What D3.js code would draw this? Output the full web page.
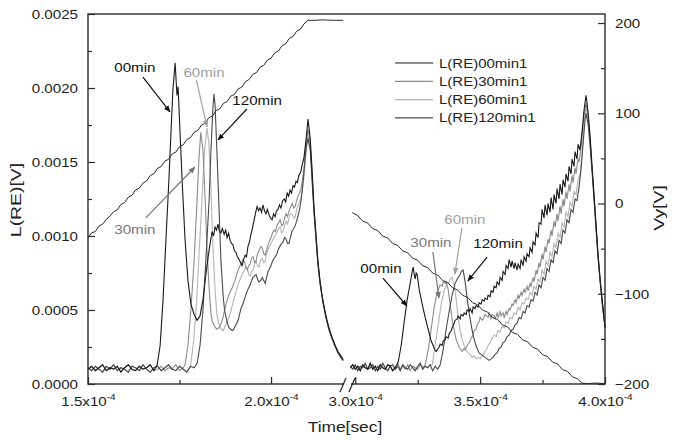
<!DOCTYPE html>
<html>
<head>
<meta charset="utf-8">
<script src="https://cdn.jsdelivr.net/npm/d3@7"></script>
<style>
  body { margin: 0; background: #fff; }
  svg { display: block; }
  text { font-family: "Liberation Sans", Arial, sans-serif; }
</style>
</head>
<body>
<svg id="chart" width="677" height="440"></svg>
<script>
// ---- data: time in microseconds, L(RE) in millivolts, Vy in volts ----

const seriesNames = ["L(RE)00min1", "L(RE)30min1", "L(RE)60min1", "L(RE)120min1"];
const seriesColors = ["#1a1a1a", "#8c8c8c", "#b4b4b4", "#4a4a4a"];

const leftTicks = [0, 0.5, 1.0, 1.5, 2.0, 2.5];
const leftMinor = [0.25, 0.75, 1.25, 1.75, 2.25];
const rightTicks = [-200, -100, 0, 100, 200];
const rightMinor = [-150, -50, 50, 150];
const timeTicksLeft = [150, 200];
const timeMinorLeft = [175];
const timeTicksRight = [300, 350, 400];
const timeMinorRight = [325, 375];

// noise floor before the first peak (left window, right window)
const baseTimesLeft = [150,151,152,153,154,155,156,157,158,159,160,161,162,163,164,165,166,167,168,169,170,171,172,173,174,175,176,177,178,179,180,181,182,183,184,185];
const baseLeftA = [0.10,0.12,0.09,0.11,0.13,0.09,0.11,0.10,0.12,0.08,0.11,0.13,0.10,0.09,0.12,0.10,0.11,0.13,0.09,0.10,0.12,0.09,0.11,0.10,0.13,0.09,0.11,0.12,0.10,0.08,0.11,0.12,0.10,0.09,0.12,0.11];
const baseLeftB = [0.11,0.09,0.12,0.10,0.08,0.12,0.10,0.13,0.09,0.11,0.10,0.08,0.12,0.11,0.09,0.13,0.10,0.08,0.11,0.12,0.09,0.11,0.13,0.10,0.09,0.12,0.10,0.08,0.12,0.11,0.10,0.09,0.12,0.10,0.11,0.09];
const baseTimesRight = [298,299,300,301,302,303,304,305,306,307,308,309,310,311,312,313,314,315,316,317,318,319,320,321,322,323,324,325,326,327,328,329,330,331,332,333,334];
const baseRightA = [0.11,0.13,0.10,0.12,0.09,0.13,0.11,0.10,0.14,0.10,0.12,0.09,0.13,0.11,0.10,0.13,0.12,0.09,0.11,0.14,0.10,0.12,0.10,0.13,0.09,0.12,0.11,0.10,0.13,0.11,0.09,0.12,0.10,0.13,0.11,0.10,0.12];
const baseRightB = [0.12,0.10,0.13,0.09,0.12,0.11,0.14,0.10,0.11,0.13,0.09,0.12,0.10,0.14,0.11,0.09,0.12,0.13,0.10,0.12,0.09,0.13,0.11,0.10,0.13,0.11,0.09,0.12,0.14,0.10,0.12,0.11,0.13,0.09,0.12,0.10,0.11];

// L(RE) after onset, left window
const L00_left = [[168.9,0.13],[169.7,0.26],[170.5,0.57],[171.3,0.98],[172.1,1.38],[172.7,1.72],[173.2,1.99],[173.8,2.17],[174.3,1.95],[174.6,2.01],[175.1,1.72],[175.7,1.38],[176.5,0.98],[177.3,0.70],[178.1,0.54],[179.0,0.47],[179.8,0.43],[180.6,0.46],[181.4,0.57],[182.2,0.74],[183.1,0.91],[183.5,0.97],[183.9,1.03],[184.3,1.00],[184.7,1.06],[185.1,1.04],[185.5,1.08],[185.9,1.03],[186.3,1.02],[186.7,1.05],[187.2,1.01],[187.6,1.04],[188.0,0.99],[188.4,1.02],[188.8,0.97],[189.2,0.95],[189.6,0.94],[190.0,0.90],[190.4,0.89],[190.8,0.86],[191.3,0.84],[191.7,0.82],[192.1,0.80],[192.5,0.84],[192.9,0.87],[193.3,0.86],[193.7,0.93],[194.1,0.96],[194.5,1.01],[194.9,1.05],[195.4,1.11],[195.8,1.16],[196.2,1.20],[196.6,1.17],[197.0,1.19],[197.4,1.16],[197.8,1.21],[198.2,1.17],[198.6,1.15],[199.0,1.18],[199.5,1.14],[199.9,1.12],[200.3,1.11],[200.7,1.15],[201.1,1.13],[201.5,1.17],[201.9,1.18],[202.3,1.21],[202.7,1.19],[203.2,1.24],[203.6,1.25],[204.0,1.23],[204.4,1.29],[204.8,1.27],[205.2,1.31],[205.6,1.29],[206.0,1.34],[206.4,1.33],[206.8,1.37],[207.2,1.36],[207.6,1.41],[208.1,1.43],[208.5,1.48],[209.0,1.53],[209.6,1.66],[210.1,1.79],[210.7,1.66],[211.2,1.45],[211.7,1.21],[212.3,1.00],[212.8,0.83],[213.4,0.69],[213.8,0.62],[214.2,0.56],[214.6,0.51],[215.0,0.46],[215.4,0.42],[215.8,0.38],[216.2,0.35],[216.7,0.31],[217.1,0.29],[217.5,0.26],[217.9,0.24],[218.3,0.21],[218.7,0.20],[219.1,0.18],[219.7,0.16]];
const L30_left = [[176.5,0.13],[177.3,0.26],[178.1,0.50],[179.0,0.84],[179.8,1.25],[180.3,1.52],[180.8,1.70],[181.4,1.58],[182.0,1.25],[182.5,0.91],[183.1,0.64],[183.6,0.47],[184.0,0.42],[184.4,0.40],[184.8,0.38],[185.2,0.37],[185.7,0.38],[186.1,0.39],[186.5,0.42],[186.9,0.45],[187.3,0.50],[187.7,0.54],[188.2,0.58],[188.6,0.61],[189.0,0.63],[189.4,0.65],[189.8,0.68],[190.2,0.70],[190.6,0.74],[191.0,0.77],[191.4,0.79],[191.8,0.81],[192.3,0.84],[192.7,0.83],[193.1,0.79],[193.5,0.77],[193.9,0.80],[194.3,0.81],[194.7,0.85],[195.1,0.86],[195.5,0.82],[195.9,0.83],[196.3,0.88],[196.7,0.90],[197.2,0.93],[197.6,0.92],[198.0,0.88],[198.4,0.87],[198.8,0.91],[199.2,0.94],[199.6,0.97],[200.0,0.99],[200.4,1.02],[200.8,1.04],[201.2,1.03],[201.6,1.07],[202.0,1.09],[202.5,1.11],[202.9,1.07],[203.3,1.08],[203.7,1.12],[204.1,1.15],[204.5,1.13],[204.9,1.17],[205.4,1.20],[205.8,1.22],[206.2,1.19],[206.6,1.20],[207.0,1.24],[207.4,1.27],[207.8,1.29],[208.2,1.32],[208.6,1.38],[209.0,1.45],[209.6,1.62],[210.1,1.72],[210.7,1.63],[211.2,1.42],[211.7,1.19],[212.3,0.99],[212.8,0.82],[213.4,0.68],[214.2,0.55],[215.0,0.45],[215.8,0.37],[216.7,0.30],[217.5,0.25],[218.3,0.21],[219.1,0.18],[219.7,0.16]];
const L60_left = [[178.1,0.14],[178.9,0.30],[179.7,0.57],[180.5,0.95],[181.3,1.33],[181.9,1.59],[182.5,1.73],[183.0,1.63],[183.6,1.31],[184.1,0.94],[184.7,0.64],[185.2,0.47],[185.7,0.41],[186.1,0.38],[186.5,0.37],[186.9,0.36],[187.3,0.38],[187.7,0.40],[188.1,0.43],[188.5,0.45],[189.0,0.49],[189.4,0.53],[189.8,0.57],[190.2,0.60],[190.6,0.64],[191.0,0.67],[191.4,0.70],[191.8,0.72],[192.2,0.75],[192.6,0.76],[193.1,0.79],[193.5,0.78],[193.9,0.74],[194.3,0.73],[194.7,0.76],[195.1,0.77],[195.5,0.81],[195.9,0.83],[196.3,0.80],[196.7,0.79],[197.2,0.84],[197.6,0.85],[198.0,0.82],[198.4,0.83],[198.8,0.88],[199.2,0.91],[199.6,0.93],[200.0,0.95],[200.4,0.97],[200.8,0.99],[201.3,1.01],[201.7,1.03],[202.1,1.05],[202.5,1.06],[202.9,1.02],[203.3,1.03],[203.7,1.07],[204.1,1.10],[204.5,1.08],[204.9,1.12],[205.3,1.15],[205.7,1.15],[206.2,1.12],[206.6,1.13],[207.0,1.18],[207.4,1.21],[207.8,1.23],[208.2,1.26],[208.6,1.32],[209.0,1.40],[209.6,1.58],[210.1,1.68],[210.7,1.60],[211.2,1.40],[211.7,1.18],[212.3,0.98],[212.8,0.82],[213.4,0.68],[214.2,0.55],[215.0,0.45],[215.8,0.37],[216.7,0.30],[217.5,0.25],[218.3,0.21],[219.1,0.18],[219.7,0.16]];
const L120_left = [[179.8,0.14],[180.6,0.26],[181.4,0.50],[182.2,0.84],[183.1,1.25],[183.6,1.59],[184.1,1.86],[184.4,1.96],[184.7,1.89],[185.2,1.58],[185.8,1.18],[186.3,0.84],[186.9,0.60],[187.3,0.50],[187.7,0.45],[188.1,0.41],[188.5,0.38],[189.0,0.37],[189.4,0.36],[189.8,0.37],[190.2,0.39],[190.6,0.41],[191.0,0.43],[191.4,0.47],[191.8,0.51],[192.3,0.54],[192.7,0.57],[193.1,0.60],[193.5,0.63],[193.9,0.65],[194.3,0.67],[194.7,0.70],[195.1,0.72],[195.5,0.73],[195.9,0.74],[196.3,0.71],[196.7,0.69],[197.2,0.70],[197.6,0.72],[198.0,0.70],[198.4,0.68],[198.8,0.72],[199.2,0.76],[199.6,0.78],[200.0,0.80],[200.4,0.83],[200.8,0.85],[201.2,0.86],[201.6,0.88],[202.0,0.91],[202.4,0.93],[202.9,0.95],[203.3,0.96],[203.7,0.99],[204.1,0.98],[204.5,0.95],[204.9,0.95],[205.3,0.99],[205.7,1.03],[206.2,1.05],[206.6,1.07],[207.0,1.10],[207.4,1.14],[207.8,1.18],[208.2,1.24],[208.6,1.33],[209.0,1.44],[209.6,1.60],[210.1,1.66],[210.7,1.58],[211.2,1.38],[211.7,1.17],[212.3,0.97],[212.8,0.81],[213.4,0.68],[214.2,0.55],[215.0,0.45],[215.8,0.37],[216.7,0.31],[217.5,0.26],[218.3,0.22],[219.1,0.19],[219.7,0.17]];

// L(RE) after onset, right window
const L00_right = [[317.2,0.15],[318.4,0.26],[319.6,0.42],[320.8,0.57],[322.0,0.68],[322.8,0.76],[323.2,0.79],[323.6,0.74],[324.0,0.71],[324.4,0.75],[324.8,0.74],[325.6,0.64],[326.8,0.54],[328.0,0.45],[329.2,0.37],[330.4,0.29],[331.2,0.26],[331.6,0.24],[332.4,0.22],[332.8,0.23],[333.6,0.25],[334.0,0.27],[334.8,0.26],[335.2,0.29],[336.0,0.30],[336.4,0.32],[337.2,0.31],[337.6,0.34],[338.4,0.36],[338.8,0.38],[339.6,0.41],[340.0,0.43],[340.8,0.44],[341.2,0.46],[342.0,0.44],[342.4,0.47],[343.2,0.46],[343.6,0.48],[344.4,0.47],[344.8,0.50],[345.6,0.49],[346.0,0.51],[346.8,0.48],[347.2,0.52],[348.0,0.51],[348.4,0.53],[349.2,0.52],[349.6,0.55],[350.4,0.54],[350.8,0.57],[351.6,0.56],[352.0,0.58],[352.8,0.57],[353.2,0.60],[354.0,0.59],[354.4,0.63],[355.2,0.62],[355.6,0.66],[356.4,0.65],[356.8,0.69],[357.6,0.67],[358.0,0.72],[358.8,0.70],[359.2,0.76],[360.0,0.74],[360.4,0.80],[361.2,0.78],[361.6,0.84],[362.4,0.79],[362.8,0.83],[363.6,0.78],[364.0,0.82],[364.8,0.77],[365.2,0.81],[366.0,0.78],[366.4,0.84],[367.2,0.80],[367.6,0.86],[368.4,0.83],[368.8,0.88],[369.6,0.86],[370.0,0.92],[370.8,0.89],[371.2,0.96],[372.0,0.94],[372.4,1.02],[373.2,0.99],[373.6,1.09],[374.4,1.08],[374.8,1.18],[375.6,1.12],[376.0,1.21],[376.8,1.14],[377.2,1.22],[378.0,1.16],[378.4,1.26],[379.2,1.18],[379.6,1.28],[380.4,1.22],[380.8,1.32],[381.6,1.25],[382.0,1.35],[382.8,1.28],[383.2,1.38],[384.0,1.33],[384.4,1.42],[385.2,1.37],[385.6,1.47],[386.4,1.42],[386.8,1.52],[387.6,1.47],[388.0,1.57],[388.8,1.52],[389.2,1.62],[390.0,1.58],[390.8,1.70],[391.6,1.85],[392.0,1.90],[392.4,1.95],[392.8,1.90],[393.2,1.84],[394.0,1.68],[394.8,1.48],[395.6,1.28],[396.4,1.08],[397.2,0.88],[398.0,0.72],[398.8,0.58],[399.6,0.45],[400.0,0.39]];
const L30_right = [[328.0,0.13],[329.2,0.23],[330.4,0.37],[331.6,0.52],[332.8,0.62],[334.0,0.67],[334.8,0.66],[335.2,0.69],[336.0,0.68],[336.4,0.69],[337.2,0.64],[338.0,0.54],[338.6,0.46],[339.2,0.40],[340.4,0.30],[341.6,0.25],[342.4,0.23],[342.8,0.22],[343.6,0.24],[344.0,0.23],[344.8,0.26],[345.2,0.27],[346.0,0.29],[346.4,0.31],[347.2,0.33],[347.6,0.36],[348.4,0.37],[348.8,0.40],[349.6,0.42],[350.0,0.45],[350.8,0.43],[351.2,0.44],[352.0,0.47],[352.4,0.46],[353.2,0.45],[353.6,0.48],[354.4,0.44],[354.8,0.47],[355.6,0.46],[356.0,0.44],[356.8,0.48],[357.2,0.45],[358.0,0.49],[358.4,0.46],[359.2,0.48],[359.6,0.45],[360.4,0.49],[360.8,0.47],[361.6,0.51],[362.0,0.50],[362.8,0.54],[363.2,0.53],[364.0,0.57],[364.4,0.55],[365.2,0.60],[365.6,0.58],[366.4,0.62],[366.8,0.60],[367.6,0.64],[368.0,0.62],[368.8,0.66],[369.2,0.63],[370.0,0.68],[370.4,0.66],[371.2,0.72],[371.6,0.69],[372.4,0.77],[372.8,0.74],[373.6,0.82],[374.0,0.79],[374.8,0.88],[375.2,0.84],[376.0,0.93],[376.4,0.89],[377.2,0.98],[377.6,0.95],[378.4,1.04],[378.8,1.00],[379.6,1.10],[380.0,1.06],[380.8,1.15],[381.2,1.10],[382.0,1.20],[382.4,1.15],[383.2,1.25],[383.6,1.20],[384.4,1.30],[384.8,1.25],[385.6,1.35],[386.0,1.30],[386.8,1.41],[387.2,1.36],[388.0,1.46],[388.4,1.42],[389.2,1.52],[389.6,1.50],[390.4,1.60],[390.8,1.68],[391.6,1.82],[392.4,1.90],[393.2,1.82],[394.0,1.66],[394.8,1.46],[395.6,1.27],[396.4,1.07],[397.2,0.87],[398.0,0.71],[398.8,0.57],[399.6,0.45],[400.0,0.38]];
const L60_right = [[330.8,0.13],[332.0,0.26],[333.2,0.40],[334.4,0.54],[335.6,0.63],[336.8,0.68],[337.6,0.69],[338.0,0.71],[338.8,0.72],[339.6,0.67],[340.4,0.57],[341.2,0.45],[342.0,0.36],[342.8,0.30],[343.6,0.26],[344.4,0.23],[345.2,0.21],[346.0,0.20],[346.8,0.18],[347.6,0.19],[348.4,0.17],[349.2,0.18],[350.0,0.17],[350.8,0.19],[351.6,0.21],[352.4,0.23],[353.2,0.26],[354.0,0.28],[354.8,0.31],[355.6,0.33],[356.4,0.32],[357.2,0.36],[358.0,0.35],[358.8,0.39],[359.6,0.38],[360.4,0.42],[361.2,0.41],[362.0,0.45],[362.8,0.44],[363.6,0.48],[364.4,0.47],[365.2,0.52],[366.0,0.50],[366.8,0.55],[367.6,0.54],[368.4,0.58],[369.2,0.57],[370.0,0.62],[370.8,0.60],[371.6,0.66],[372.4,0.64],[373.2,0.71],[374.0,0.69],[374.8,0.77],[375.6,0.74],[376.4,0.83],[377.2,0.80],[378.0,0.89],[378.8,0.86],[379.6,0.95],[380.4,0.92],[381.2,1.02],[382.0,0.99],[382.8,1.09],[383.6,1.06],[384.4,1.16],[385.2,1.13],[386.0,1.23],[386.8,1.20],[387.6,1.30],[388.4,1.28],[389.2,1.38],[390.0,1.42],[390.8,1.55],[391.6,1.76],[392.4,1.88],[393.2,1.80],[394.0,1.64],[394.8,1.45],[395.6,1.26],[396.4,1.06],[397.2,0.86],[398.0,0.70],[398.8,0.56],[399.6,0.44],[400.0,0.38]];
const L120_right = [[334.0,0.13],[335.2,0.23],[336.4,0.37],[337.6,0.49],[338.8,0.60],[340.0,0.68],[340.8,0.71],[341.2,0.72],[342.0,0.74],[342.4,0.76],[343.2,0.77],[344.0,0.69],[344.8,0.58],[345.6,0.48],[346.4,0.40],[347.2,0.33],[348.0,0.28],[348.8,0.24],[349.6,0.21],[350.4,0.20],[351.2,0.19],[352.0,0.18],[352.8,0.17],[353.6,0.16],[354.4,0.17],[355.2,0.18],[356.0,0.20],[356.8,0.21],[357.6,0.24],[358.4,0.25],[359.2,0.28],[360.0,0.29],[360.8,0.32],[361.6,0.33],[362.4,0.36],[363.2,0.37],[364.0,0.40],[364.8,0.41],[365.6,0.45],[366.4,0.44],[367.2,0.49],[368.0,0.48],[368.8,0.53],[369.6,0.52],[370.4,0.57],[371.2,0.56],[372.0,0.62],[372.8,0.60],[373.6,0.67],[374.4,0.65],[375.2,0.72],[376.0,0.70],[376.8,0.78],[377.6,0.76],[378.4,0.84],[379.2,0.82],[380.0,0.90],[380.8,0.88],[381.6,0.97],[382.4,0.95],[383.2,1.04],[384.0,1.02],[384.8,1.11],[385.6,1.09],[386.4,1.18],[387.2,1.16],[388.0,1.25],[388.8,1.24],[389.6,1.33],[390.4,1.45],[391.2,1.62],[392.0,1.78],[392.4,1.83],[393.2,1.76],[394.0,1.62],[394.8,1.44],[395.6,1.25],[396.4,1.05],[397.2,0.86],[398.0,0.70],[398.8,0.56],[399.6,0.44],[400.0,0.38]];

// Vy deflection voltage (right axis)
const Vy_left = [[150,-38],[151,-32.5],[152,-31],[153,-25],[154,-23],[155,-17.5],[156,-14],[157,-9],[158,-7],[159,-1],[160,1],[161,7],[162,9],[163,15],[164,17],[165,22.5],[166,25],[167,31],[168,33],[169,39],[170,41],[171,47],[172,49],[173,55],[174,57],[175,63],[176,65],[177,71],[178,73],[179,79],[180,81],[181,87],[182,89],[183,95],[184,97],[185,103],[186,105],[187,111],[188,113],[189,119],[190,121],[191,127],[192,129],[193,135],[194,137.5],[195,143],[196,145],[197,151],[198,153],[199,159],[200,161],[201,167],[202,169],[203,175],[204,177],[205,183],[206,185],[207,191],[208,193],[209,199],[210.1,203],[212,203],[214,203.5],[217,203],[219.7,203]];
const Vy_right = [[298.8,-10],[301,-13.5],[303,-19.6],[305,-21.7],[307,-27.8],[309,-30],[311,-36.1],[313,-38.2],[315,-44.3],[317,-46.4],[319,-52.5],[321,-54.6],[323,-60.7],[325,-62.8],[327,-68.9],[329,-71],[331,-77.1],[333,-79.2],[335,-85.4],[337,-87.5],[339,-93.6],[341,-95.7],[343,-101.8],[345,-103.9],[347,-110],[349,-112.1],[351,-118.2],[353,-120.3],[355,-126.4],[357,-128.5],[359,-134.7],[361,-136.8],[363,-142.9],[365,-145],[367,-151.1],[369,-153.2],[371,-159.3],[373,-161.4],[375,-167.5],[377,-169.6],[379,-175.7],[381,-177.8],[383,-184],[385,-186.1],[387,-192.2],[389,-194.3],[390.8,-199],[393,-199.5],[396,-199],[400,-199.5]];

// ---- layout & scales ----
const svg = d3.select("#chart");
const plot = { left: 88, right: 605, top: 14, bottom: 384 };
const xLeft = d3.scaleLinear().domain([150, 220.2]).range([plot.left, 345]);
const xRight = d3.scaleLinear().domain([297.5, 400]).range([349, plot.right]);
const yL = d3.scaleLinear().domain([0, 2.5]).range([plot.bottom, plot.top]);
const yV = d3.scaleLinear().domain([-200, 210]).range([plot.bottom, plot.top]);

const STRETCH = 1.2;
function widen(sel, f) {
  sel.each(function () {
    const len = this.getComputedTextLength();
    d3.select(this).attr("textLength", len * f).attr("lengthAdjust", "spacingAndGlyphs");
  });
}

// ---- curves ----
const withBase = (times, base, rise) =>
  times.map((t, i) => [t, base[i]]).filter(d => d[0] < rise[0][0]).concat(rise);

const curves = [
  { name: seriesNames[2], color: seriesColors[2], left: withBase(baseTimesLeft, baseLeftB, L60_left), right: withBase(baseTimesRight, baseRightB, L60_right) },
  { name: seriesNames[1], color: seriesColors[1], left: withBase(baseTimesLeft, baseLeftA, L30_left), right: withBase(baseTimesRight, baseRightA, L30_right) },
  { name: seriesNames[3], color: seriesColors[3], left: withBase(baseTimesLeft, baseLeftB, L120_left), right: withBase(baseTimesRight, baseRightB, L120_right) },
  { name: seriesNames[0], color: seriesColors[0], left: withBase(baseTimesLeft, baseLeftA, L00_left), right: withBase(baseTimesRight, baseRightA, L00_right) }
];

const lineL = d3.line().x(d => xLeft(d[0])).y(d => yL(d[1]));
const lineR = d3.line().x(d => xRight(d[0])).y(d => yL(d[1]));
const gCurves = svg.append("g").attr("fill", "none");
curves.forEach(c => {
  gCurves.append("path").attr("d", lineL(c.left)).attr("stroke", c.color).attr("stroke-width", 1.1);
  gCurves.append("path").attr("d", lineR(c.right)).attr("stroke", c.color).attr("stroke-width", 1.1);
});

// Vy ramps
const vyL = d3.line().x(d => xLeft(d[0])).y(d => yV(d[1]));
const vyR = d3.line().x(d => xRight(d[0])).y(d => yV(d[1]));
svg.append("path").attr("d", vyL(Vy_left)).attr("fill", "none").attr("stroke", "#2a2a2a").attr("stroke-width", 1);
svg.append("path").attr("d", vyR(Vy_right)).attr("fill", "none").attr("stroke", "#2a2a2a").attr("stroke-width", 1);

// ---- frame ----
svg.append("rect")
  .attr("x", plot.left).attr("y", plot.top)
  .attr("width", plot.right - plot.left).attr("height", plot.bottom - plot.top)
  .attr("fill", "none").attr("stroke", "#2b2b2b").attr("stroke-width", 1.4);

// ---- axes ----
const tickStyle = g => {
  g.select(".domain").remove();
  g.selectAll(".tick line").attr("stroke", "#2b2b2b").attr("stroke-width", 1.2);
  g.selectAll(".tick text").attr("fill", "#222").attr("font-size", 13.5)
    .attr("font-family", "'Liberation Sans', Arial, sans-serif");
};

svg.append("g").attr("transform", `translate(${plot.left},0)`)
  .call(d3.axisLeft(yL).tickValues(leftTicks).tickSizeInner(-7).tickSizeOuter(0).tickPadding(10)
    .tickFormat(v => (v / 1000).toFixed(4)))
  .call(tickStyle);
svg.append("g").attr("transform", `translate(${plot.left},0)`)
  .call(d3.axisLeft(yL).tickValues(leftMinor).tickSizeInner(-4).tickSizeOuter(0).tickFormat(""))
  .call(tickStyle);

svg.append("g").attr("transform", `translate(${plot.right},0)`)
  .call(d3.axisRight(yV).tickValues(rightTicks).tickSizeInner(-7).tickSizeOuter(0).tickPadding(10)
    .tickFormat(d3.format("d")))
  .call(tickStyle);
svg.append("g").attr("transform", `translate(${plot.right},0)`)
  .call(d3.axisRight(yV).tickValues(rightMinor).tickSizeInner(-4).tickSizeOuter(0).tickFormat(""))
  .call(tickStyle);

function timeLabel(g) {
  g.selectAll(".tick text").each(function (d) {
    const t = d3.select(this).text(null).attr("y", 22).attr("dy", null);
    t.append("tspan").text((d / 100).toFixed(1) + "x10");
    t.append("tspan").attr("dy", -6).attr("font-size", 9).text("-4");
  });
}
svg.append("g").attr("transform", `translate(0,${plot.bottom})`)
  .call(d3.axisBottom(xLeft).tickValues(timeTicksLeft).tickSizeInner(-7).tickSizeOuter(0))
  .call(tickStyle).call(timeLabel);
svg.append("g").attr("transform", `translate(0,${plot.bottom})`)
  .call(d3.axisBottom(xLeft).tickValues(timeMinorLeft).tickSizeInner(-4).tickSizeOuter(0).tickFormat(""))
  .call(tickStyle);
svg.append("g").attr("transform", `translate(0,${plot.bottom})`)
  .call(d3.axisBottom(xRight).tickValues(timeTicksRight).tickSizeInner(-7).tickSizeOuter(0))
  .call(tickStyle).call(timeLabel);
svg.append("g").attr("transform", `translate(0,${plot.bottom})`)
  .call(d3.axisBottom(xRight).tickValues(timeMinorRight).tickSizeInner(-4).tickSizeOuter(0).tickFormat(""))
  .call(tickStyle);

widen(svg.selectAll(".tick text").filter(function () { return this.textContent !== ""; }), 1.12);

// axis break on the time axis
const brk = svg.append("g");
brk.append("rect").attr("x", 344).attr("y", plot.bottom - 3).attr("width", 7).attr("height", 6).attr("fill", "#fff");
brk.append("line").attr("x1", 340).attr("y1", 392).attr("x2", 346).attr("y2", 378).attr("stroke", "#222").attr("stroke-width", 1.2);
brk.append("line").attr("x1", 349).attr("y1", 392).attr("x2", 355).attr("y2", 378).attr("stroke", "#222").attr("stroke-width", 1.2);

// ---- axis titles ----
const titleFont = 15.5;
svg.append("text").attr("x", 345).attr("y", 432).attr("text-anchor", "middle")
  .attr("font-size", titleFont).attr("fill", "#222").text("Time[sec]").call(widen, 1.12);
svg.append("text").attr("transform", "translate(21,200) rotate(-90)").attr("text-anchor", "middle")
  .attr("font-size", titleFont).attr("fill", "#222").text("L(RE)[V]").call(widen, 1.25);
svg.append("text").attr("transform", "translate(664,208) rotate(-90)").attr("text-anchor", "middle")
  .attr("font-size", titleFont).attr("fill", "#222").text("Vy[V]").call(widen, 1.25);

// ---- legend ----
const legend = svg.append("g");
seriesNames.forEach((n, i) => {
  const y = 63 + i * 18.3;
  legend.append("line").attr("x1", 395).attr("x2", 433).attr("y1", y).attr("y2", y)
    .attr("stroke", seriesColors[i]).attr("stroke-width", 1.2);
  legend.append("text").attr("x", 439).attr("y", y + 4.5).attr("font-size", 12.5).attr("fill", "#222")
    .text(n).call(widen, STRETCH);
});

// ---- annotations (positions in data units of each time window) ----
const notes = [
  { side: "L", text: "00min", color: "#111", at: [162.8, 2.108], from: [165.0, 2.074], to: [172.4, 1.838] },
  { side: "L", text: "60min", color: "#a0a0a0", at: [181.7, 2.074], from: [179.6, 2.054], to: [182.5, 1.737] },
  { side: "L", text: "120min", color: "#111", at: [196.2, 1.885], from: [193.4, 1.858], to: [185.5, 1.649] },
  { side: "L", text: "30min", color: "#777", at: [162.8, 1.014], from: [165.8, 1.122], to: [179.2, 1.466] },
  { side: "R", text: "00min", color: "#111", at: [310.3, 0.750], from: [311.1, 0.716], to: [320.7, 0.527] },
  { side: "R", text: "30min", color: "#777", at: [330.3, 0.926], from: [331.1, 0.892], to: [333.5, 0.581] },
  { side: "R", text: "60min", color: "#a0a0a0", at: [343.9, 1.081], from: [342.7, 1.054], to: [339.9, 0.743] },
  { side: "R", text: "120min", color: "#111", at: [357.2, 0.919], from: [352.8, 0.858], to: [345.1, 0.696] }
];

const defs = svg.append("defs");
const markerId = c => "arrow" + c.replace("#", "");
[...new Set(notes.map(n => n.color))].forEach(c => {
  defs.append("marker").attr("id", markerId(c)).attr("viewBox", "0 0 10 10")
    .attr("refX", 9).attr("refY", 5).attr("markerWidth", 7).attr("markerHeight", 7)
    .attr("markerUnits", "userSpaceOnUse").attr("orient", "auto")
    .append("path").attr("d", "M0,1 L10,5 L0,9 Z").attr("fill", c);
});

const gNotes = svg.append("g");
notes.forEach(n => {
  const xs = n.side === "L" ? xLeft : xRight;
  gNotes.append("line")
    .attr("x1", xs(n.from[0])).attr("y1", yL(n.from[1]))
    .attr("x2", xs(n.to[0])).attr("y2", yL(n.to[1]))
    .attr("stroke", n.color).attr("stroke-width", 1.2)
    .attr("marker-end", `url(#${markerId(n.color)})`);
  gNotes.append("text").attr("x", xs(n.at[0])).attr("y", yL(n.at[1]))
    .attr("text-anchor", "middle").attr("font-size", 13.5).attr("fill", n.color)
    .text(n.text).call(widen, 1.12);
});
</script>
</body>
</html>
